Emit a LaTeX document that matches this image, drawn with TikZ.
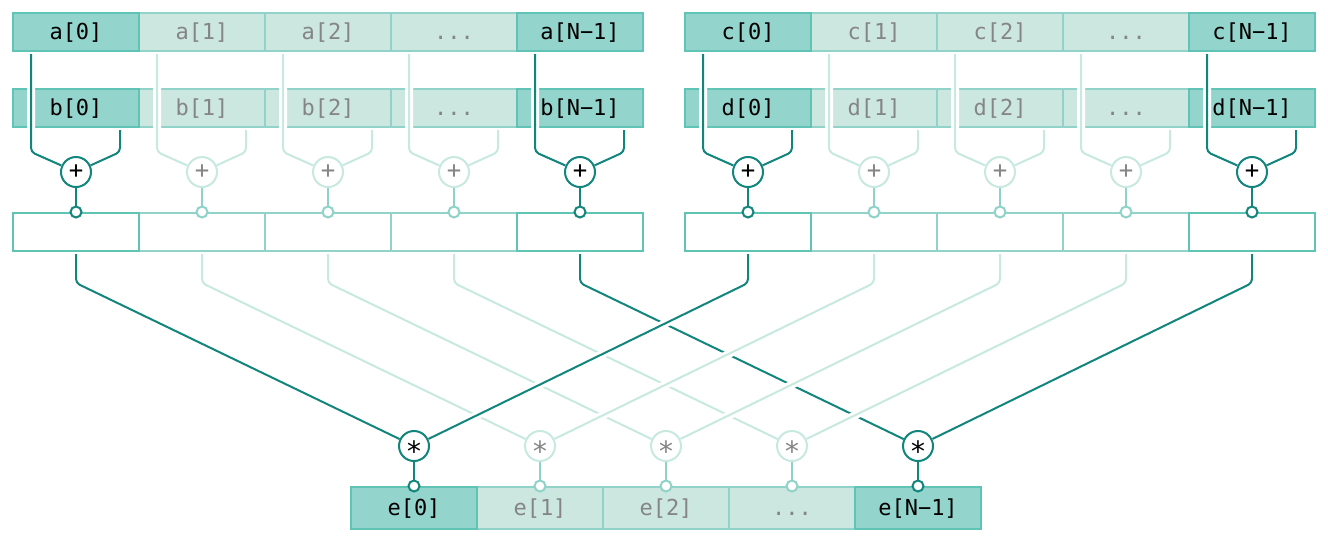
\documentclass[tikz,border=0pt]{standalone}
\usepackage{fontspec}
\setmonofont{DejaVu Sans Mono}
\usetikzlibrary{positioning, calc}

\definecolor{hotwire}{HTML}{12857D}
\definecolor{coldwire}{HTML}{C8E9E0}
\definecolor{coldpin}{HTML}{8FD3C8}
\definecolor{hotfill}{HTML}{93D5CC}
\definecolor{hotedge}{HTML}{5FC3B5}
\definecolor{coldfill}{HTML}{CBE7DF}
\definecolor{coldedge}{HTML}{92D3C9}
\definecolor{coldtext}{HTML}{858585}

% per column colours: 0 and 4 are the drawn-out columns
\colorlet{wire0}{hotwire}  \colorlet{pin0}{hotwire} \colorlet{sign0}{black}
\colorlet{wire1}{coldwire} \colorlet{pin1}{coldpin} \colorlet{sign1}{coldtext}
\colorlet{wire2}{coldwire} \colorlet{pin2}{coldpin} \colorlet{sign2}{coldtext}
\colorlet{wire3}{coldwire} \colorlet{pin3}{coldpin} \colorlet{sign3}{coldtext}
\colorlet{wire4}{hotwire}  \colorlet{pin4}{hotwire} \colorlet{sign4}{black}

\tikzset{
  cell/.style={draw, line width=1pt, minimum width=63pt, minimum height=19pt, inner sep=0pt, text height=8.8pt, text depth=1.5pt, font=\fontsize{11}{13}\selectfont\ttfamily},
  hot/.style={cell, fill=hotfill, draw=hotedge, text=black},
  cold/.style={cell, fill=coldfill, draw=coldedge, text=coldtext},
  sumcell/.style={cell, fill=white},
  op/.style={circle, line width=1pt, fill=white, minimum size=15pt, inner sep=0pt, font=\fontsize{12}{13}\selectfont\ttfamily},
  pin/.style={circle, line width=1pt, fill=white, minimum size=5.5pt, inner sep=0pt},
  wire/.style={line width=1pt, rounded corners=2pt},
  halo/.style={preaction={draw=white, line width=4pt}}
}

\newcommand{\mulsign}{{\fontsize{14}{14}\selectfont\raisebox{-0.54em}[0pt][0pt]{*}}}

% one row of five cells: name, letter, x of first centre, y, extra options
\newcommand{\cellrow}[5]{%
  \foreach \i in {1,2} \node[cold, #5] (#1\i) at (#3+126*\i, #4) {#2[\i]};
  \node[cold, #5] (#13) at (#3+378, #4) {...};
  \node[hot, #5] (#10) at (#3, #4) {#2[0]};
  \node[hot, #5] (#14) at (#3+504, #4) {#2[N−1]};
}
\newcommand{\sumrow}[2]{%
  \foreach \i in {1,2,3} \node[sumcell, draw=coldedge] (#1\i) at (#2+126*\i, 232) {};
  \foreach \i in {0,4} \node[sumcell, draw=hotedge] (#1\i) at (#2+126*\i, 232) {};
}

\begin{document}
\begin{tikzpicture}[x=0.5pt, y=-0.5pt]
\useasboundingbox (0,0) rectangle (1328,543);

% input arrays
\cellrow{a}{a}{76}{32}{}
\cellrow{b}{b}{76}{108}{}
\cellrow{c}{c}{748}{32}{}
\cellrow{d}{d}{748}{108}{}
% sums
\sumrow{s}{76}
\sumrow{t}{748}
% output array
\cellrow{e}{e}{414}{508}{minimum height=21pt}

% additions
\foreach \i in {0,...,4} {
  \node[op, draw=wire\i, text=sign\i] (p\i) at (76+126*\i, 172) {+};
  \node[op, draw=wire\i, text=sign\i] (q\i) at (748+126*\i, 172) {+};
  \draw[wire, halo, draw=wire\i] ([xshift=-22.5pt, yshift=-1pt]a\i.south) -- ++(0,98) -- (p\i);
  \draw[wire, draw=wire\i] ([xshift=22pt, yshift=-1pt]b\i.south) -- ++(0,22) -- (p\i);
  \draw[wire, halo, draw=wire\i] ([xshift=-22.5pt, yshift=-1pt]c\i.south) -- ++(0,98) -- (q\i);
  \draw[wire, draw=wire\i] ([xshift=22pt, yshift=-1pt]d\i.south) -- ++(0,22) -- (q\i);
  \node[pin, draw=pin\i] (ps\i) at (s\i.north) {};
  \node[pin, draw=pin\i] (pt\i) at (t\i.north) {};
  \draw[line width=1pt, draw=pin\i] (p\i) -- (ps\i);
  \draw[line width=1pt, draw=pin\i] (q\i) -- (pt\i);
}

% products
\foreach \i in {0,...,4}
  \node[op, draw=wire\i, text=sign\i] (m\i) at (414+126*\i, 446) {\mulsign};
\foreach \i in {0,...,4}
  \draw[wire, draw=wire\i] ([yshift=-1pt]s\i.south) -- ++(0,29) -- (m\i);
\foreach \i in {0,...,4}
  \draw[wire, halo, draw=wire\i] ([yshift=-1pt]t\i.south) -- ++(0,29) -- (m\i);
\foreach \i in {0,...,4} {
  \node[pin, draw=pin\i] (pe\i) at (e\i.north) {};
  \draw[line width=1pt, draw=pin\i] (m\i) -- (pe\i);
}
\end{tikzpicture}
\end{document}
